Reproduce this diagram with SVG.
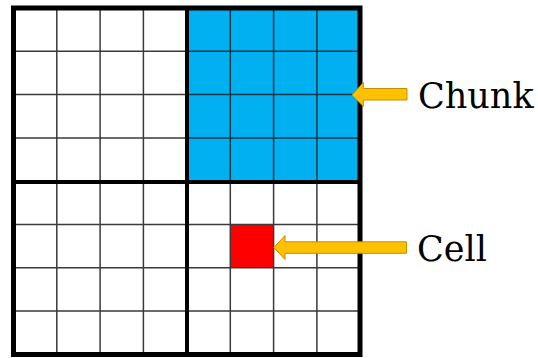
<svg xmlns="http://www.w3.org/2000/svg" width="538" height="358" viewBox="0 0 538 358">
<style>
.thin{stroke:#3a3a3a;stroke-width:1.5;fill:none}
.thinb{stroke:#143848;stroke-width:1.5;fill:none}
.thick{stroke:#000;stroke-width:4;fill:none}
.arrow{fill:#FFC000;stroke:#C09000;stroke-width:1}
.lbl{font-family:"DejaVu Serif",serif;font-size:35px;fill:#000}
</style>
<rect width="538" height="358" fill="#fff"/>
<g id="chunk-fill">
<rect x="187" y="8" width="173" height="174" fill="#00B0F0"/>
</g>
<g id="cell-fill">
<rect x="230.3" y="224.5" width="43.3" height="43.3" fill="#FF0000"/>
</g>
<g id="grid">
<path class="thin" d="M56.8 8V354.5M100.1 8V354.5M143.4 8V354.5M230.3 182V354.5M273.6 182V354.5M316.9 182V354.5M13.5 51.3H187M13.5 94.6H187M13.5 137.9H187M13.5 224.5H360M13.5 267.8H360M13.5 311.1H360"/>
<path class="thinb" d="M230.3 8V182M273.6 8V182M316.9 8V182M187 51.3H360M187 94.6H360M187 137.9H360"/>
<path class="thick" d="M187 8V354.5M13.5 182H360"/>
<rect x="13.5" y="8" width="346.5" height="346.5" fill="none" stroke="#000" stroke-width="5"/>
</g>
<g id="connectors">
<polygon class="arrow" points="352,95 363.3,82.5 363.3,88.5 407,88.5 407,100 363.3,100 363.3,106.5"/>
<polygon class="arrow" points="273.8,247.5 285,235.5 285,241.8 406.5,241.8 406.5,253.3 285,253.3 285,259.5"/>
</g>
<g id="label-chunk"><text class="lbl" x="418" y="107.7">Chunk</text></g>
<g id="label-cell"><text class="lbl" x="417" y="261">Cell</text></g>
</svg>
